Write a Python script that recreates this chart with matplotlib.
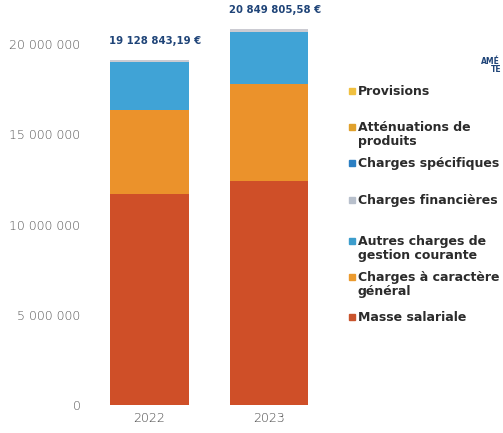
import matplotlib
matplotlib.use("Agg")
import matplotlib.pyplot as plt
from matplotlib.patches import Rectangle
import numpy as np

# --- data ---
years = ["2022", "2023"]
totals = [19128843.19, 20849805.58]
total_labels = ["19 128 843,19 €", "20 849 805,58 €"]

# stacked from the bottom up
categories = [
    "Masse salariale",
    "Charges à caractère\ngénéral",
    "Autres charges de\ngestion courante",
    "Charges financières",
    "Charges spécifiques",
    "Atténuations de\nproduits",
    "Provisions",
]
masse_salariale = [11700000, 12420000]
charges_generales = [4620000, 5350000]
autres_charges = [2670000, 2900000]
charges_financieres = [138843, 179806]
charges_specifiques = [0, 0]
attenuations = [0, 0]
provisions = [0, 0]

yticks = [0, 5000000, 10000000, 15000000, 20000000]
ytick_labels = ["0", "5 000 000", "10 000 000", "15 000 000", "20 000 000"]

series = [masse_salariale, charges_generales, autres_charges,
          charges_financieres, charges_specifiques, attenuations, provisions]
bar_colors = ["#cf4f28", "#eb922b", "#40a3d6", "#cbcbd2",
              "#2b7fc3", "#e0a12c", "#f0c040"]
legend_colors = ["#c9542d", "#eb9a2e", "#3c9dcc", "#b8c0cc",
                 "#2b7fc3", "#e0a12c", "#f0c040"]

W, H = 503, 433
fig = plt.figure(figsize=(W / 100, H / 100), dpi=100)
fig.patch.set_facecolor("white")

# axes placed in pixel terms: zero line at y=405, left edge at x=90
ax = fig.add_axes([90 / W, (H - 405) / H, 240 / W, 388 / H])
ax.set_xlim(-0.498, 1.51)
ax.set_ylim(0, 21.5e6)

x = np.arange(len(years))
bottom = np.zeros(len(years))
for vals, col in zip(series, bar_colors):
    ax.bar(x, vals, width=0.66, bottom=bottom, color=col, linewidth=0)
    bottom += np.array(vals, dtype=float)

for xi, tot, lab in zip(x, totals, total_labels):
    ax.annotate(lab, (xi, tot), xytext=(4, 10), textcoords="offset points",
                ha="center", va="bottom", fontsize=7.3, fontweight="bold",
                color="#1f4478", family="DejaVu Sans", annotation_clip=False)

ax.set_yticks(yticks)
ax.set_yticklabels(ytick_labels)
ax.set_xticks(x)
ax.set_xticklabels(years)
ax.tick_params(axis="y", length=0, pad=7, labelsize=9, labelcolor="#555555")
ax.tick_params(axis="x", length=0, pad=5, labelsize=9, labelcolor="#444444")
for lbl in ax.get_yticklabels() + ax.get_xticklabels():
    lbl.set_fontweight("light")
for s in ax.spines.values():
    s.set_visible(False)

# legend, top entry first
legend_y = [91, 127, 163, 200, 241, 277, 317]
for cat, col, yy in zip(categories[::-1], legend_colors[::-1], legend_y):
    fig.patches.append(Rectangle((349 / W, 1 - (yy + 3) / H), 6 / W, 6 / H,
                                 transform=fig.transFigure, color=col))
    fig.text(358 / W, 1 - (yy - 6) / H, cat, ha="left", va="top",
             fontsize=9, fontweight="bold", color="#2b2b2b",
             linespacing=1.12)

# heading at the right margin, running off the edge
fig.text(481 / W, 1 - 62 / H, "AMÉ", fontsize=5.5, fontweight="bold",
         color="#1f4478", va="center")
fig.text(491 / W, 1 - 70 / H, "TE", fontsize=5.5, fontweight="bold",
         color="#1f4478", va="center")

fig.savefig("out.png", dpi=100, facecolor="white")
